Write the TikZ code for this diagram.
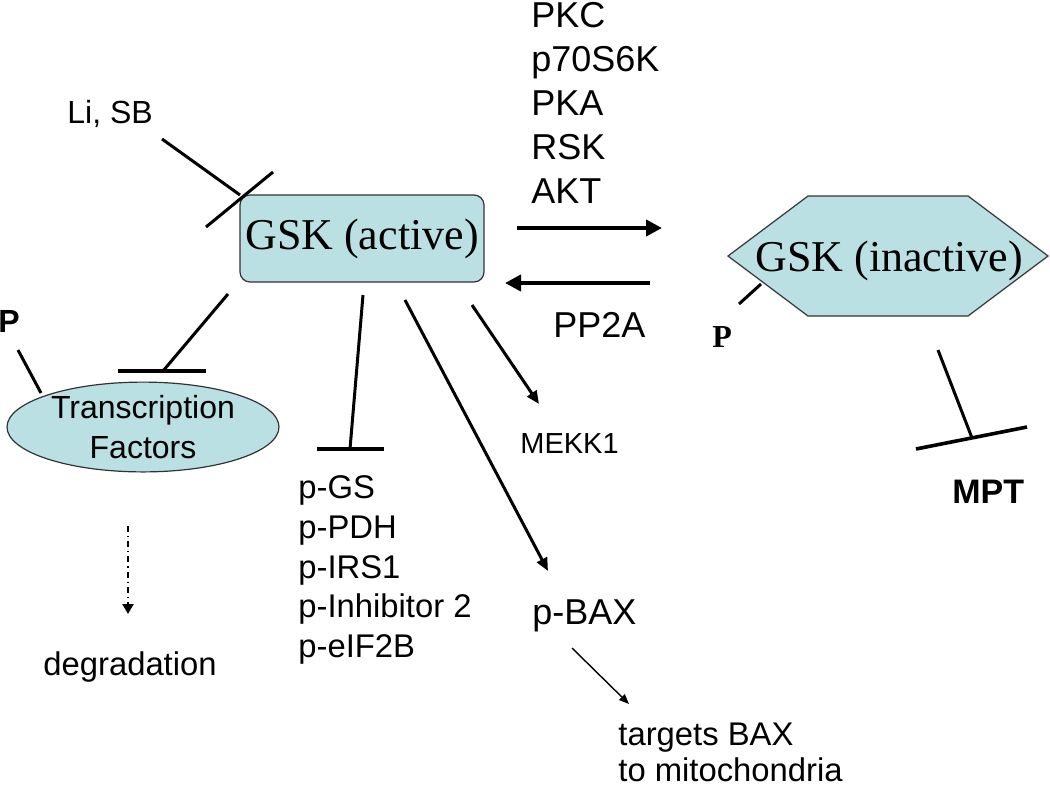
\documentclass[tikz,border=0pt]{standalone}
\usepackage{fontspec}
\setmainfont{Liberation Sans}
\newfontfamily\tnr{Liberation Serif}
\usetikzlibrary{arrows.meta,shapes.geometric}
\definecolor{gskfill}{RGB}{187,224,227}
\tikzset{
  lbl/.style={anchor=base west,inner sep=0pt,font=\fontsize{16.4}{20}\selectfont},
  biglbl/.style={anchor=base west,inner sep=0pt,font=\fontsize{18}{22}\selectfont},
  inhib/.style={line width=1.5pt},
  inhibbar/.style={line width=1.8pt},
  bigarrow/.style={line width=2.4pt,-{Triangle[length=8pt,width=8pt]}},
  midarrow/.style={line width=1.5pt,-{Triangle[length=6.5pt,width=5.5pt]}},
  thinarrow/.style={line width=0.7pt,-{Triangle[length=5pt,width=4pt]}},
  dasharrow/.style={line width=1.2pt,dash pattern=on 3pt off 2pt on 0.6pt off 2pt,
    -{Triangle[length=5pt,width=5.5pt]}},
  shapeline/.style={draw=black!80,line width=0.6pt,fill=gskfill},
}
\begin{document}
\begin{tikzpicture}[x=0.5pt,y=-0.5pt]
\useasboundingbox (0,0) rectangle (1050,788);

% GSK active
\node (gskA) [shapeline,rounded corners=5pt,
  minimum width=122pt,minimum height=43.5pt,inner sep=0pt,
  font=\tnr\fontsize{22}{26}\selectfont] at (362,238.5) {GSK (active)};

% GSK inactive hexagon
\draw[shapeline]
  (728,256) -- (808,196) -- (968,196) -- (1048,256) -- (968,316) -- (808,316) -- cycle;
\node (gskI) [anchor=base west,inner sep=0pt,font=\tnr\fontsize{22}{26}\selectfont]
  at (755,271) {GSK (inactive)};

% Transcription factors
\node (tf) [ellipse,shapeline,inner sep=0pt,
  minimum width=136pt,minimum height=43.5pt,align=center,
  font=\fontsize{16}{20}\selectfont] at (143,427) {Transcription\\Factors};

% labels
\node (lisb) [lbl,font=\fontsize{16}{20}\selectfont] at (67,123) {Li, SB};
\node (pkc) [biglbl] at (531,27) {PKC};
\node (p70) [biglbl] at (531,71) {p70S6K};
\node (pka) [biglbl] at (531,115) {PKA};
\node (rsk) [biglbl] at (531,159) {RSK};
\node (akt) [biglbl] at (531,203) {AKT};
\node (pp2a) [biglbl] at (553,337) {PP2A};
\node (mekk) [lbl,font=\fontsize{14.5}{18}\selectfont] at (520,453) {MEKK1};
\node (pgs) [lbl] at (298,498) {p-GS};
\node (ppdh) [lbl] at (298,538) {p-PDH};
\node (pirs) [lbl] at (298,578) {p-IRS1};
\node (pinh) [lbl] at (298,617) {p-Inhibitor 2};
\node (peif) [lbl] at (298,657) {p-eIF2B};
\node (pbax) [biglbl] at (532,624) {p-BAX};
\node (degr) [lbl] at (43,675) {degradation};
\node (targ1) [lbl] at (618,745) {targets BAX};
\node (targ2) [lbl] at (618,781) {to mitochondria};
\node (mpt) [anchor=base west,inner sep=0pt,font=\bfseries\fontsize{17}{20}\selectfont] at (952,503) {MPT};
\node (pL) [anchor=base west,inner sep=0pt,font=\bfseries\fontsize{16}{20}\selectfont] at (-2,332) {P};
\node (pR) [anchor=base west,inner sep=0pt,font=\tnr\bfseries\fontsize{16}{20}\selectfont] at (712,347) {P};

% coordinates for connector ends
\coordinate (lisbS) at (162,139);
\coordinate (lisbE) at (240,195);
\coordinate (lisbB1) at (206,227);
\coordinate (lisbB2) at (273,172);

\coordinate (tfS) at (228,294);
\coordinate (tfE) at (163,371);
\coordinate (tfB1) at (118,371);
\coordinate (tfB2) at (206,371);

\coordinate (pLS) at (18,350);
\coordinate (pLE) at (41,393);

\coordinate (degS) at (128,526);
\coordinate (degE) at (128,614);

\coordinate (pgS) at (363,295);
\coordinate (pgE) at (350,449);
\coordinate (pgB1) at (317,449);
\coordinate (pgB2) at (384,449);

\coordinate (bxS) at (405,300);
\coordinate (bxE) at (548,571);

\coordinate (mkS) at (472,305);
\coordinate (mkE) at (539,404);

\coordinate (fwS) at (517,228);
\coordinate (fwE) at (662,228);
\coordinate (bwS) at (650,283);
\coordinate (bwE) at (505,283);

\coordinate (pRS) at (739,304);
\coordinate (pRE) at (761,284);

\coordinate (mpS) at (938,350);
\coordinate (mpE) at (972,438);
\coordinate (mpB1) at (916,449);
\coordinate (mpB2) at (1027,427);

\coordinate (tgS) at (572,648);
\coordinate (tgE) at (629,704);

% connectors
\draw[inhib] (lisbS) -- (lisbE);
\draw[inhib] (lisbB1) -- (lisbB2);
\draw[inhib] (tfS) -- (tfE);
\draw[inhibbar] (tfB1) -- (tfB2);
\draw[inhib] (pLS) -- (pLE);
\draw[dasharrow] (degS) -- (degE);
\draw[inhib] (pgS) -- (pgE);
\draw[inhibbar] (pgB1) -- (pgB2);
\draw[midarrow] (bxS) -- (bxE);
\draw[midarrow] (mkS) -- (mkE);
\draw[bigarrow] (fwS) -- (fwE);
\draw[bigarrow] (bwS) -- (bwE);
\draw[inhib] (pRS) -- (pRE);
\draw[inhib] (mpS) -- (mpE);
\draw[inhibbar] (mpB1) -- (mpB2);
\draw[thinarrow] (tgS) -- (tgE);
\end{tikzpicture}
\end{document}
